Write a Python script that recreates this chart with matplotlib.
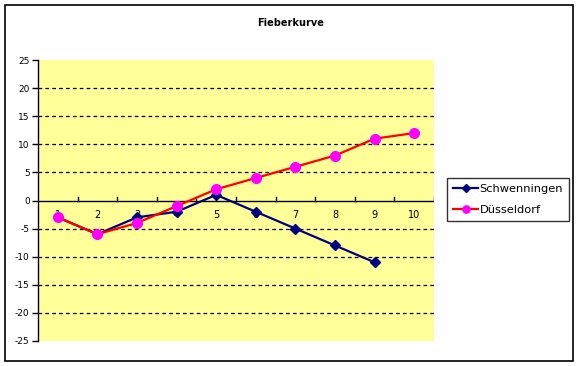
import matplotlib
matplotlib.use("Agg")
import matplotlib.pyplot as plt
from matplotlib.patches import Rectangle

categories = [1, 2, 3, 4, 5, 6, 7, 8, 9, 10]
schwenningen = [-3, -6, -3, -2, 1, -2, -5, -8, -11]
duesseldorf = [-3, -6, -4, -1, 2, 4, 6, 8, 11, 12]
yticks = [-25, -20, -15, -10, -5, 0, 5, 10, 15, 20, 25]

plt.rcParams['font.family'] = ['DejaVu Sans']

W, H = 578, 366
fig = plt.figure(figsize=(W / 100, H / 100), dpi=100)
fig.patch.set_facecolor('white')

# outer border
fig.patches.append(Rectangle((5 / W, 1 - 361 / H), 568 / W, 356 / H,
                             transform=fig.transFigure, fill=False,
                             edgecolor='black', linewidth=1.2, zorder=0))

ax = fig.add_axes([38 / W, 1 - 341 / H, 396 / W, 281 / H])
ax.set_facecolor('#FFFF99')
ax.set_xlim(0.5, 10.5)
ax.set_ylim(-25, 25)

for s in ['top', 'right', 'bottom']:
    ax.spines[s].set_visible(False)
ax.spines['left'].set_color('black')
ax.spines['left'].set_linewidth(1)

ax.set_yticks(yticks)
ax.set_yticklabels([str(v) for v in yticks], fontsize=6.5)
ax.tick_params(axis='y', direction='out', length=4, width=1, pad=2)
for v in yticks:
    if v not in (0, -25, 25):
        ax.axhline(v, color='black', linestyle=(0, (3, 2.5)), linewidth=0.9, zorder=1)

# category axis at y=0
ax.axhline(0, color='black', linewidth=1, zorder=2)
ax.set_xticks([])
for b in [c + 0.5 for c in categories]:
    ax.plot([b, b], [0, 0.6], color='black', linewidth=1, zorder=2)
for c in categories:
    ax.text(c, -2.6, str(c), ha='center', va='center', fontsize=7, zorder=1)

ax.plot(categories[:len(schwenningen)], schwenningen, color='#000080', linewidth=1.6,
        marker='D', markersize=5.5, markerfacecolor='#000080', markeredgecolor='#000080',
        label='Schwenningen', zorder=4)
ax.plot(categories, duesseldorf, color='#FF0000', linewidth=1.6,
        marker='o', markersize=7, markerfacecolor='#FF00FF', markeredgecolor='#FF00FF',
        label='Düsseldorf', zorder=5)

fig.text(291 / W, 1 - 23 / H, 'Fieberkurve', ha='center', va='center',
         fontsize=7, fontweight='semibold')

leg = fig.legend(loc='upper left', bbox_to_anchor=(447 / W, 1 - 178 / H),
                 bbox_transform=fig.transFigure, fontsize=8.2, frameon=True,
                 fancybox=False, edgecolor='black', borderpad=0.55,
                 handlelength=2.2, handletextpad=0.1, labelspacing=0.9,
                 borderaxespad=0, markerscale=0.75)
leg.get_frame().set_linewidth(1)

fig.savefig('out.png', dpi=100)
